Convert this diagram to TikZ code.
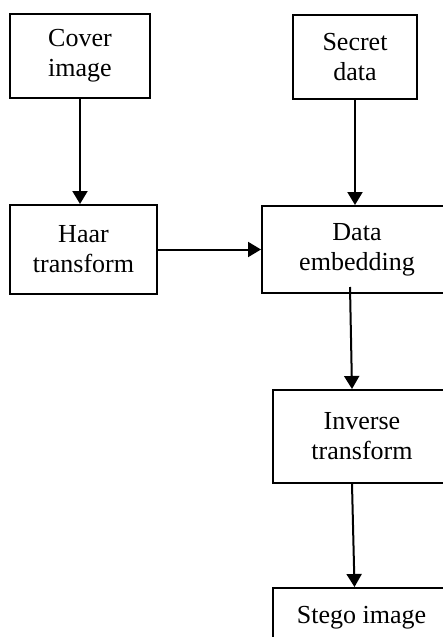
\documentclass[tikz,border=0pt]{standalone}
\usepackage{fontspec}
\setmainfont{Liberation Serif}
\usepackage{tikz}
\usetikzlibrary{arrows.meta,positioning}

\begin{document}
\begin{tikzpicture}[x=0.5pt,y=-0.5pt, box/.style={draw,line width=1pt,align=center,inner sep=2pt,font=\fontsize{13}{15}\selectfont}, arr/.style={-{Triangle[width=7.5pt,length=6.5pt]},line width=1pt}]
\useasboundingbox (0,0) rectangle (443,637);
\clip (0,0) rectangle (443,637);
\node[box,minimum width=70pt,minimum height=42pt] (cover) at (80,56) {Cover\\image};
\node[box,minimum width=73.5pt,minimum height=44.5pt,below=52.5pt of cover,xshift=1.75pt] (haar) {Haar\\transform};
\node[box,minimum width=95pt,minimum height=43.5pt,right=51.5pt of haar] (emb) {Data\\embedding};
\node[box,minimum width=62pt,minimum height=42pt,above=52.5pt of emb,xshift=-1pt] (secret) {Secret\\data};
\node[box,minimum width=89pt,minimum height=46.5pt,below=47.5pt of emb,xshift=2.5pt] (inv) {Inverse\\transform};
\node[box,minimum width=88.5pt,minimum height=30pt,below=51.5pt of inv,xshift=-0.25pt] (stego) {Stego image};
\draw[arr] (cover.south) -- (cover.south |- haar.north);
\draw[arr] (secret.south) -- (secret.south |- emb.north);
\draw[arr] (haar.east) -- (haar.east -| emb.west);
\draw[arr] ([xshift=-3.5pt,yshift=3.5pt]emb.south) -- ([xshift=-5pt]inv.north);
\draw[arr] ([xshift=-5pt]inv.south) -- ([xshift=-3.5pt]stego.north);
\end{tikzpicture}
\end{document}
